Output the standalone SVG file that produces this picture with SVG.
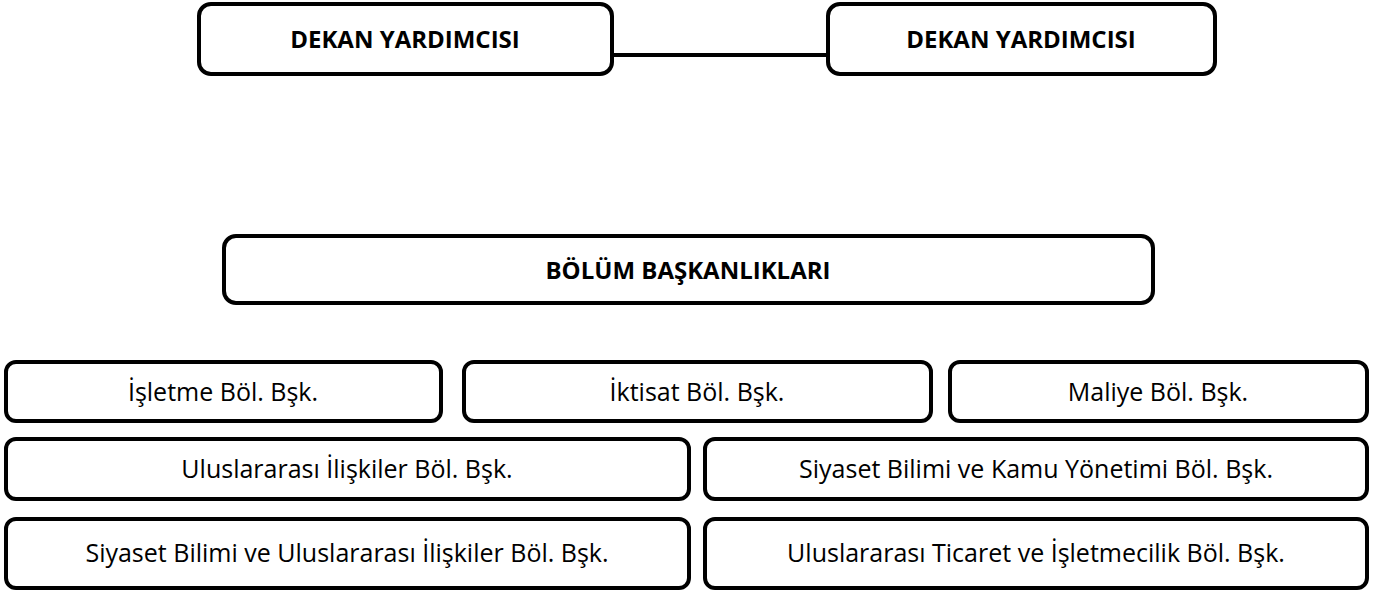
<svg xmlns="http://www.w3.org/2000/svg" width="1378" height="597" viewBox="0 0 1378 597">
<style>
.box{fill:#fff;stroke:#000;stroke-width:4}
.b{font-family:"Open Sans","Liberation Sans",sans-serif;font-weight:bold;font-size:24px;text-anchor:middle;fill:#000}
.t{font-family:"Open Sans","Liberation Sans",sans-serif;font-size:25px;text-anchor:middle;fill:#000}
.c{stroke:#000;stroke-width:4;fill:none}
</style>
<g id="connectors">
<line class="c" x1="612" y1="55" x2="828" y2="55"/>
</g>
<g id="dy1"><rect class="box" x="199" y="4" width="413" height="70" rx="12"/><text class="b" x="405" y="48">DEKAN YARDIMCISI</text></g>
<g id="dy2"><rect class="box" x="828" y="4" width="387" height="70" rx="12"/><text class="b" x="1021" y="48">DEKAN YARDIMCISI</text></g>
<g id="bb"><rect class="box" x="224" y="236" width="929" height="67" rx="12"/><text class="b" x="688" y="279">BÖLÜM BAŞKANLIKLARI</text></g>
<g id="n1"><rect class="box" x="6" y="362" width="435" height="59" rx="10"/><text class="t" x="223" y="401">İşletme Böl. Bşk.</text></g>
<g id="n2"><rect class="box" x="464" y="362" width="467" height="59" rx="10"/><text class="t" x="697" y="401">İktisat Böl. Bşk.</text></g>
<g id="n3"><rect class="box" x="950" y="362" width="417" height="59" rx="10"/><text class="t" x="1158" y="401">Maliye Böl. Bşk.</text></g>
<g id="n4"><rect class="box" x="6" y="439" width="683" height="60" rx="10"/><text class="t" x="347" y="478">Uluslararası İlişkiler Böl. Bşk.</text></g>
<g id="n5"><rect class="box" x="705" y="439" width="662" height="60" rx="10"/><text class="t" x="1036" y="478">Siyaset Bilimi ve Kamu Yönetimi Böl. Bşk.</text></g>
<g id="n6"><rect class="box" x="6" y="519" width="683" height="69" rx="10"/><text class="t" x="347" y="562">Siyaset Bilimi ve Uluslararası İlişkiler Böl. Bşk.</text></g>
<g id="n7"><rect class="box" x="705" y="519" width="662" height="69" rx="10"/><text class="t" x="1036" y="562">Uluslararası Ticaret ve İşletmecilik Böl. Bşk.</text></g>
</svg>
